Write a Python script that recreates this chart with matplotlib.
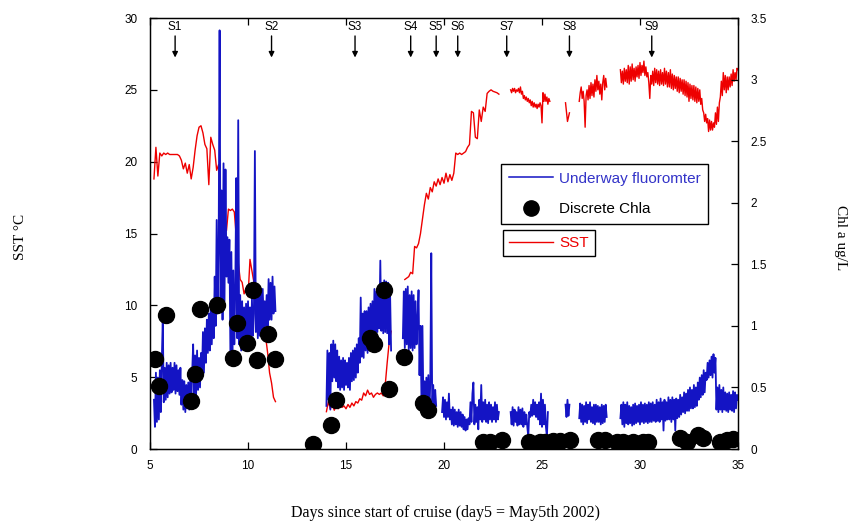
import numpy as np
import matplotlib.pyplot as plt
from matplotlib.lines import Line2D
from matplotlib.ticker import FormatStrFormatter

plt.rcParams['font.family'] = ['Liberation Sans', 'DejaVu Sans']

# stations along the cruise track
stations = ['S1', 'S2', 'S3', 'S4', 'S5', 'S6', 'S7', 'S8', 'S9']
station_day = [6.28, 11.2, 15.46, 18.3, 19.6, 20.7, 23.2, 26.4, 30.6]

# discrete chlorophyll samples (ug/L)
chl_day = [5.26, 5.47, 5.80, 7.08, 7.30, 7.54, 8.42, 9.22, 9.45, 9.95, 10.24, 10.47,
           11.0, 11.38, 13.32, 14.21, 14.5, 16.2, 16.45, 16.94, 17.19, 17.96, 18.93, 19.2,
           21.97, 22.35, 22.94, 24.35, 24.9, 25.15, 25.56, 25.92, 26.43, 27.86, 28.21,
           28.81, 29.15, 29.66, 30.17, 30.42, 32.04, 32.38, 32.96, 33.21, 34.08, 34.42, 34.76]
chl_val = [0.73, 0.51, 1.09, 0.39, 0.61, 1.14, 1.17, 0.74, 1.02, 0.86, 1.29, 0.72,
           0.93, 0.73, 0.04, 0.195, 0.40, 0.90, 0.85, 1.29, 0.49, 0.75, 0.37, 0.32,
           0.06, 0.06, 0.07, 0.06, 0.06, 0.06, 0.065, 0.065, 0.07, 0.07, 0.07,
           0.06, 0.06, 0.06, 0.06, 0.055, 0.09, 0.06, 0.11, 0.09, 0.06, 0.07, 0.08]

# underway fluorometer, one list per continuous stretch (ug/L)
fl_span = [(5.2, 11.4), (14.0, 17.3), (17.9, 19.6), (19.9, 22.8), (23.4, 25.3),
           (26.2, 26.4), (26.9, 28.3), (29.0, 35.0)]
fl_1 = [0.40, 0.18, 0.62, 0.22, 0.58, 0.24, 0.64, 0.30, 0.72, 1.05,
        0.38, 0.66, 0.40, 0.70, 0.42, 0.68, 0.45, 0.70, 0.46, 0.66,
        0.48, 0.70, 0.45, 0.68, 0.47, 0.64, 0.44, 0.66, 0.36, 0.56,
        0.32, 0.55, 0.30, 0.52, 0.33, 0.54, 0.32, 0.56, 0.34, 0.62,
        0.85, 0.42, 0.76, 0.44, 0.80, 0.48, 0.74, 0.50, 0.78, 0.60,
        0.95, 0.62, 0.98, 0.70, 1.05, 0.78, 1.10, 0.80, 1.19, 0.85,
        1.15, 0.90, 1.40, 1.00, 1.86, 1.10, 1.60, 3.40, 1.20, 2.10,
        1.05, 2.32, 1.20, 2.27, 1.40, 1.72, 1.35, 1.70, 0.78, 1.60,
        0.75, 1.45, 0.85, 1.30, 2.20, 0.90, 2.67, 0.85, 1.25, 0.80,
        1.20, 0.82, 1.15, 0.80, 1.18, 0.85, 1.20, 0.80, 1.15, 0.88,
        1.22, 0.92, 1.10, 2.42, 0.95, 1.25, 0.90, 1.28, 0.92, 1.30,
        0.95, 1.30, 0.98, 1.20, 1.00, 1.25, 1.00, 1.38, 1.05, 1.35,
        1.05, 1.40, 1.10, 1.32, 1.12]
fl_2 = [0.35, 0.80, 0.40, 0.78, 0.32, 0.85, 0.55, 0.88, 0.58, 0.85,
        0.55, 0.80, 0.50, 0.75, 0.48, 0.72, 0.50, 0.74, 0.48, 0.72,
        0.52, 0.70, 0.50, 0.74, 0.48, 0.78, 0.55, 0.80, 0.56, 0.82,
        0.58, 0.85, 0.62, 0.90, 0.70, 1.23, 0.75, 1.10, 0.74, 1.12,
        0.80, 1.12, 0.78, 1.15, 0.80, 1.18, 0.85, 1.20, 0.88, 1.30,
        0.90, 1.28, 0.95, 1.30, 0.98, 1.53, 0.96, 1.35, 0.94, 1.37,
        0.95, 1.36, 0.94, 1.35, 0.85, 1.25, 0.80]
fl_3 = [0.90, 1.28, 0.82, 1.30, 0.85, 1.32, 0.80, 1.25, 0.82, 1.28,
        0.80, 1.25, 0.82, 1.20, 0.85, 1.05, 1.29, 0.60, 1.00, 0.40,
        1.00, 0.35, 0.55, 0.28, 0.58, 0.30, 0.60, 0.26, 0.55, 1.59,
        0.30, 0.52, 0.28, 0.48, 0.35]
fl_4 = [0.30, 0.42, 0.26, 0.40, 0.24, 0.38, 0.26, 0.45, 0.24, 0.32,
        0.20, 0.34, 0.19, 0.32, 0.20, 0.30, 0.18, 0.32, 0.19, 0.30,
        0.18, 0.28, 0.16, 0.26, 0.15, 0.24, 0.16, 0.25, 0.20, 0.38,
        0.22, 0.45, 0.54, 0.20, 0.36, 0.22, 0.34, 0.16, 0.40, 0.24,
        0.52, 0.22, 0.38, 0.24, 0.40, 0.22, 0.36, 0.21, 0.38, 0.24,
        0.36, 0.22, 0.34, 0.24, 0.38, 0.22, 0.36, 0.24, 0.30]
fl_5 = [0.30, 0.20, 0.34, 0.19, 0.32, 0.22, 0.30, 0.19, 0.34, 0.20,
        0.32, 0.20, 0.33, 0.18, 0.30, 0.20, 0.28, 0.18, 0.10, 0.30,
        0.26, 0.36, 0.27, 0.40, 0.28, 0.38, 0.26, 0.36, 0.24, 0.38,
        0.20, 0.45, 0.18, 0.40, 0.20, 0.36, 0.18, 0.10, 0.30]
fl_6 = [0.36, 0.26, 0.40, 0.27, 0.36]
fl_7 = [0.25, 0.37, 0.22, 0.36, 0.20, 0.35, 0.22, 0.38, 0.21, 0.36,
        0.24, 0.38, 0.22, 0.34, 0.21, 0.36, 0.20, 0.36, 0.22, 0.35,
        0.22, 0.34, 0.20, 0.36, 0.21, 0.35, 0.22, 0.36, 0.26]
fl_8 = [0.25, 0.36, 0.20, 0.38, 0.18, 0.36, 0.21, 0.38, 0.20, 0.35,
        0.21, 0.34, 0.19, 0.36, 0.20, 0.37, 0.21, 0.35, 0.22, 0.36,
        0.20, 0.38, 0.22, 0.36, 0.21, 0.37, 0.22, 0.36, 0.21, 0.38,
        0.22, 0.37, 0.22, 0.38, 0.23, 0.36, 0.22, 0.40, 0.23, 0.38,
        0.22, 0.41, 0.24, 0.38, 0.15, 0.40, 0.23, 0.38, 0.24, 0.42,
        0.24, 0.40, 0.22, 0.42, 0.24, 0.40, 0.15, 0.41, 0.25, 0.40,
        0.26, 0.44, 0.28, 0.42, 0.30, 0.46, 0.29, 0.45, 0.31, 0.48,
        0.31, 0.50, 0.33, 0.48, 0.33, 0.52, 0.34, 0.50, 0.35, 0.54,
        0.40, 0.58, 0.42, 0.60, 0.44, 0.64, 0.46, 0.62, 0.56, 0.70,
        0.58, 0.72, 0.60, 0.75, 0.58, 0.77, 0.62, 0.74, 0.32, 0.50,
        0.30, 0.52, 0.32, 0.48, 0.30, 0.50, 0.32, 0.46, 0.31, 0.45,
        0.30, 0.46, 0.32, 0.44, 0.31, 0.47, 0.30, 0.46, 0.33, 0.44,
        0.40]
fl_parts = [fl_1, fl_2, fl_3, fl_4, fl_5, fl_6, fl_7, fl_8]

# sea surface temperature (deg C)
sst_span = [(5.2, 11.4), (14.0, 17.3), (18.0, 22.8), (23.4, 25.4),
            (26.2, 26.4), (26.9, 28.3), (29.0, 35.0)]
sst_1 = [18.8, 21.0, 19.0, 20.6, 20.4, 20.6, 20.5, 20.6,
         20.5, 20.5, 20.5, 20.5, 20.5, 20.4, 20.1, 19.5, 19.9, 19.2,
         19.8, 18.8, 19.6, 20.8, 21.8, 22.4, 22.5, 22.0, 21.2, 20.9,
         18.4, 21.7, 21.2, 20.8, 19.4, 19.8, 15.9, 14.8, 16.6, 15.2,
         16.7, 16.6, 16.7, 16.5, 14.8, 13.0, 11.8, 11.6, 10.8, 11.2,
         10.6, 13.2, 12.4, 11.6, 11.2, 11.4, 11.1, 10.9, 10.0, 7.8,
         6.7, 5.3, 4.6, 3.6, 3.3]
sst_2 = [2.6, 3.3, 2.8, 3.1, 2.7, 3.0, 2.8, 3.1, 2.9, 3.0,
         2.8, 3.1, 2.9, 3.2, 3.0, 3.3, 3.2, 3.5, 3.4, 3.9,
         3.7, 4.1, 3.8, 3.9, 3.6, 3.8, 3.9, 3.8, 3.9, 3.7,
         4.45, 6.0, 7.4, 8.2]
sst_3 = [11.8, 11.9, 12.0, 12.3, 12.2, 14.1, 14.0, 14.3, 15.0, 16.0,
         17.0, 17.8, 17.4, 18.2, 17.9, 18.6, 18.3, 18.8, 18.4, 18.9,
         18.5, 19.2, 18.6, 19.1, 18.7, 19.2, 20.6, 20.5, 20.6, 20.5,
         20.6, 20.7, 21.0, 21.2, 23.5, 23.4, 21.7, 21.6, 23.6, 22.8,
         23.8, 23.5, 24.75, 24.9, 25.0, 24.9, 24.85, 24.8, 24.7]
sst_4 = [25.0, 24.8, 25.1, 24.9, 25.1, 24.8, 25.0, 24.9, 25.1, 24.8,
         25.2, 24.7, 24.9, 24.4, 24.6, 24.3, 24.5, 24.2, 24.4, 24.1,
         24.3, 23.9, 24.2, 23.8, 24.1, 23.8, 24.0, 23.7, 24.0, 23.8,
         24.1, 23.9, 22.7, 24.8, 24.2, 24.7, 24.2, 24.5, 24.0, 24.4,
         24.2]
sst_5 = [24.1, 22.8, 23.4]
sst_6 = [24.2, 24.8, 25.2, 24.4, 24.9, 24.2, 22.4, 24.6, 25.0, 24.3,
         25.3, 24.4, 25.5, 24.6, 25.4, 24.5, 25.7, 24.9, 26.0, 25.0,
         25.6, 24.7, 25.4, 24.3, 25.5, 26.0, 25.0, 25.8, 25.2]
sst_7 = [26.4, 25.5, 26.3, 25.4, 26.5, 25.6, 26.4, 25.5, 26.7, 25.4,
         26.6, 25.6, 26.8, 25.7, 26.5, 25.6, 26.6, 25.9, 26.7, 25.8,
         26.9, 26.0, 26.7, 26.2, 27.0, 26.0, 26.6, 25.9, 26.2, 25.5,
         24.4, 26.0, 25.4, 26.3, 25.3, 26.5, 25.5, 26.4, 25.4, 26.3,
         25.3, 26.4, 25.4, 26.2, 25.3, 26.5, 25.4, 26.3, 25.2, 26.2,
         25.2, 26.4, 25.1, 26.1, 25.0, 26.0, 25.1, 25.9, 24.9, 25.9,
         24.8, 25.8, 24.9, 25.7, 24.7, 25.7, 24.6, 25.6, 24.5, 25.5,
         24.2, 25.4, 24.4, 25.3, 24.3, 25.3, 24.2, 25.2, 24.1, 25.1,
         24.2, 25.0, 24.0, 24.4, 23.6, 23.4, 22.8, 23.3, 22.7, 23.0,
         22.1, 22.9, 22.2, 22.8, 22.2, 22.7, 22.4, 23.4, 22.6, 23.8,
         22.8, 24.1, 24.5, 25.6, 24.6, 26.2, 25.0, 26.0, 24.8, 25.9,
         25.0, 25.9, 25.2, 26.1, 25.3, 26.4, 25.6, 26.2, 25.7, 26.5,
         26.4]
sst_parts = [sst_1, sst_2, sst_3, sst_4, sst_5, sst_6, sst_7]


def join(spans, parts):
    # string the stretches together with NaN gaps between them
    xs, ys = [], []
    for (t0, t1), v in zip(spans, parts):
        xs += list(np.linspace(t0, t1, len(v))) + [np.nan]
        ys += list(v) + [np.nan]
    return np.array(xs), np.array(ys)


sst_x, sst_y = join(sst_span, sst_parts)
fl_x, fl_y = join(fl_span, fl_parts)

blue = '#1414c4'
red = '#ee0000'

fig = plt.figure(figsize=(8.51, 5.22), dpi=100)
ax = fig.add_axes([0.1763, 0.1398, 0.6909, 0.8257])
ax2 = ax.twinx()

ax.plot(sst_x, sst_y, color=red, lw=1.0)
ax2.plot(fl_x, fl_y, color=blue, lw=1.3)
ax2.plot(chl_day, chl_val, 'o', color='black', ms=11.5, zorder=5)

ax.set_xlim(5, 35)
ax.set_ylim(0, 30)
ax2.set_ylim(0, 3.5)
ax.set_xticks([5, 10, 15, 20, 25, 30, 35])
ax.set_yticks([0, 5, 10, 15, 20, 25, 30])
ax2.set_yticks([0, 0.5, 1, 1.5, 2, 2.5, 3, 3.5])
ax2.yaxis.set_major_formatter(FormatStrFormatter('%g'))

ax.tick_params(axis='both', direction='in', length=5, width=0.9, labelsize=8.5, pad=9,
               top=True)
ax.tick_params(axis='x', pad=8)
ax2.tick_params(axis='y', direction='in', length=5, width=0.9, labelsize=8.5, pad=9)
for sp in list(ax.spines.values()) + list(ax2.spines.values()):
    sp.set_linewidth(0.9)

# station markers
for name, d in zip(stations, station_day):
    ax.text(d, 29.35, name, ha='center', va='center', fontsize=8.5)
    ax.annotate('', xy=(d, 27.25), xytext=(d, 28.75),
                arrowprops=dict(arrowstyle='-|>', color='black', lw=1,
                                mutation_scale=8, shrinkA=0, shrinkB=0))

# legends
h1 = [Line2D([], [], color=blue, lw=1.1),
      Line2D([], [], ls='none', marker='o', color='black', ms=11)]
leg1 = fig.legend(h1, ['Underway fluoromter', 'Discrete Chla'], loc='upper left',
                  bbox_to_anchor=(501 / 851, 1 - 164 / 522), fontsize=11,
                  labelcolor=['#3333c8', 'black'], frameon=True, fancybox=False,
                  edgecolor='black', framealpha=1, handlelength=2.9,
                  handletextpad=0.4, labelspacing=1.1, borderpad=0.5,
                  borderaxespad=0)
leg1.get_frame().set_linewidth(1)
h2 = [Line2D([], [], color=red, lw=1.0)]
leg2 = fig.legend(h2, ['SST'], loc='upper left',
                  bbox_to_anchor=(503 / 851, 1 - 230 / 522), fontsize=11,
                  labelcolor=[red], frameon=True, fancybox=False,
                  edgecolor='black', framealpha=1, handlelength=2.9,
                  handletextpad=0.4, borderpad=0.4, borderaxespad=0)
leg2.get_frame().set_linewidth(1)

serif = ['Liberation Serif', 'DejaVu Serif']
fig.text(445 / 851, 1 - 513 / 522, 'Days since start of cruise (day5 = May5th 2002)',
         ha='center', va='center', fontsize=11.5, family=serif)
fig.text(20 / 851, 1 - 237 / 522, 'SST °C', rotation=90, ha='center', va='center',
         fontsize=11, family=serif)
fig.text(841 / 851, 1 - 238 / 522, 'Chl a ug/L', rotation=270, ha='center', va='center',
         fontsize=11, family=serif)

fig.savefig('out.png', dpi=100)
